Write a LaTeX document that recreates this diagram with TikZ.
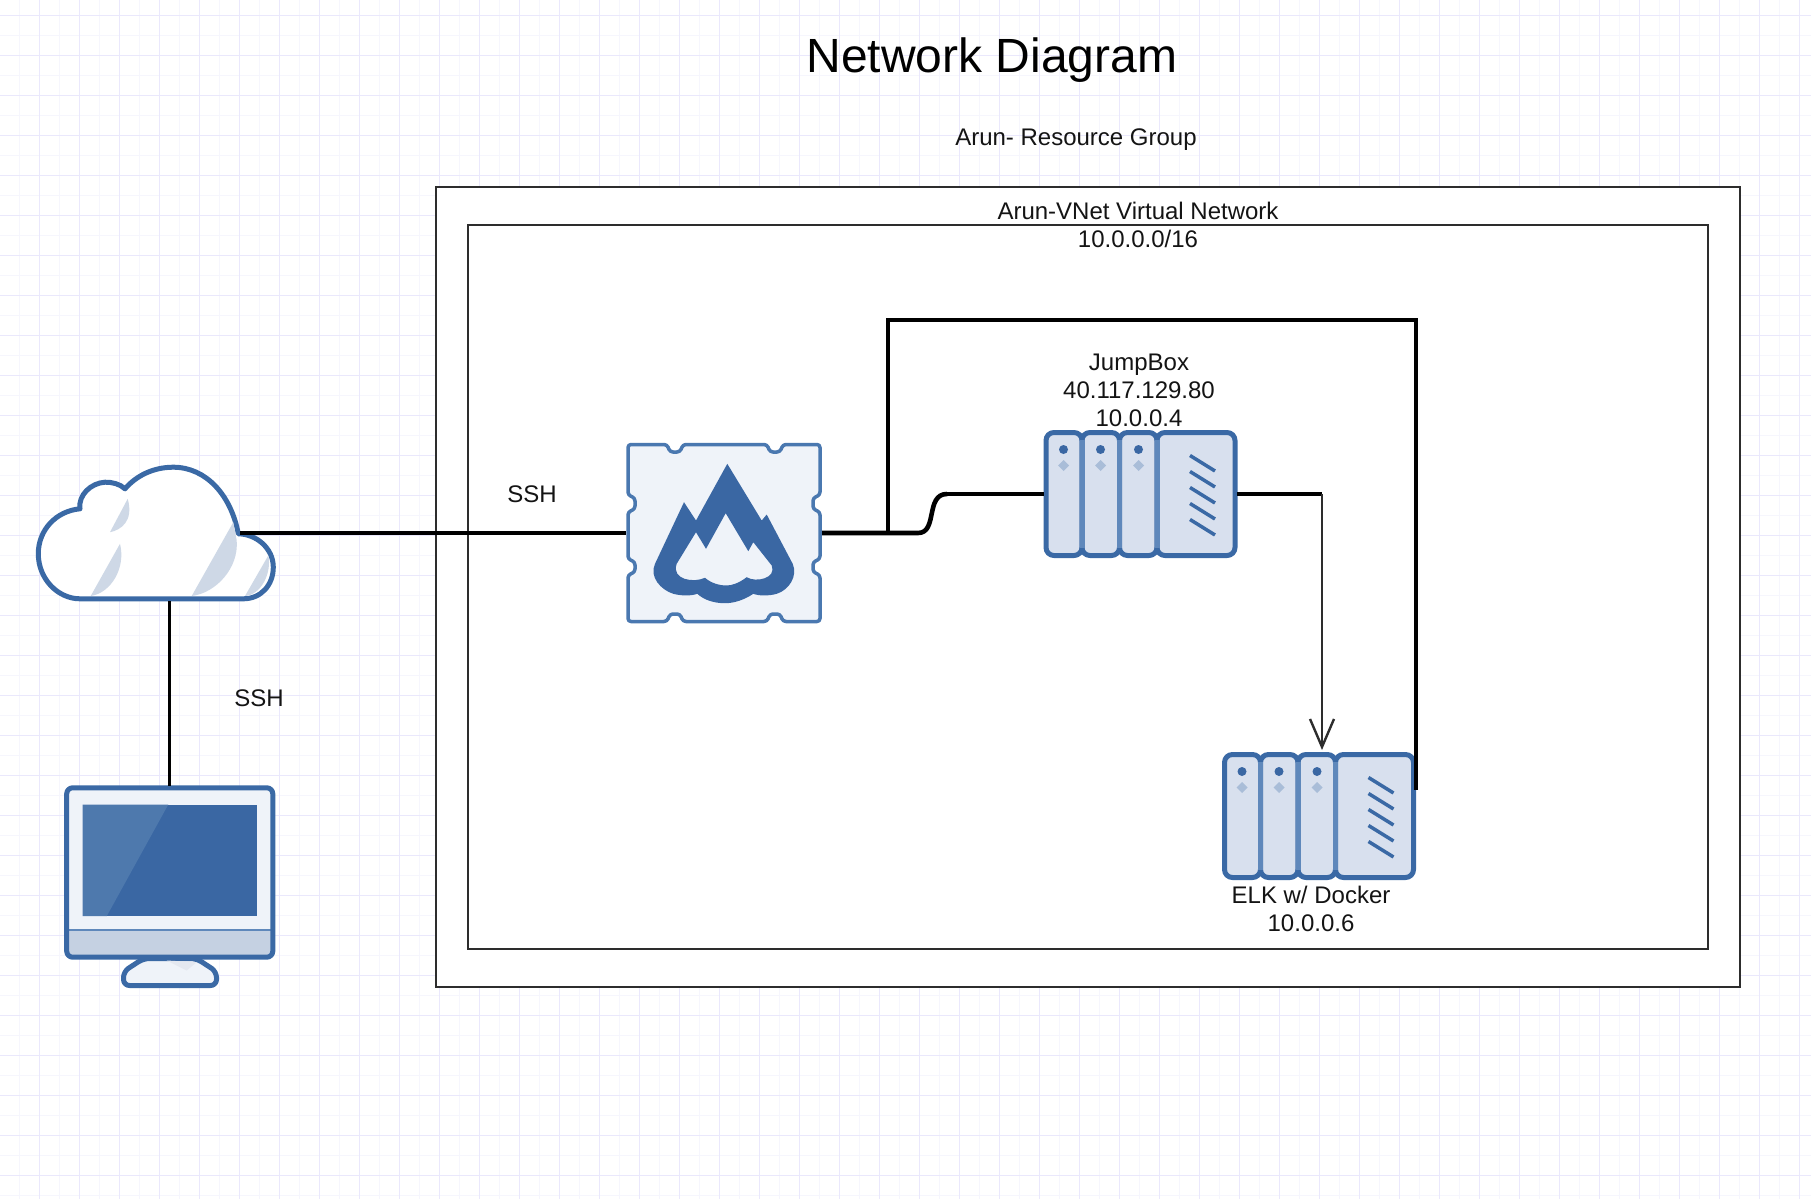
\documentclass[tikz,border=0pt]{standalone}
\usepackage{fontspec}
\setmainfont{Liberation Sans}
\usetikzlibrary{arrows.meta}
\tikzset{
  gridmajor/.style={draw={rgb,255:red,234;green,232;blue,252},line width=0.55pt,step=20pt},
  gridminor/.style={draw={rgb,255:red,246;green,246;blue,253},line width=0.55pt,step=20pt},
  groupbox/.style={fill=white,draw={rgb,255:red,45;green,45;blue,45},line width=1pt},
  iconbox/.style={inner sep=0pt,outer sep=0pt},
  labeltext/.style={font=\fontsize{12}{14}\selectfont,align=center,inner sep=0pt,text={rgb,255:red,20;green,20;blue,20}},
  titletext/.style={font=\fontsize{24}{28}\selectfont,inner sep=0pt},
  iconline/.style={draw={rgb,255:red,58;green,105;blue,165},line width=2.5pt,line join=round},
  iconthin/.style={draw={rgb,255:red,74;green,120;blue,176},line width=1.75pt,line join=round},
  iconsoft/.style={draw={rgb,255:red,95;green,136;blue,187},line width=2.5pt},
  iconslash/.style={draw={rgb,255:red,58;green,105;blue,165},line width=1.75pt},
  icondark/.style={fill={rgb,255:red,58;green,103;blue,163}},
  iconpale/.style={fill={rgb,255:red,239;green,243;blue,249}},
  iconblade/.style={fill={rgb,255:red,216;green,224;blue,238}},
  iconshade/.style={fill={rgb,255:red,206;green,216;blue,230}},
  icondot/.style={fill={rgb,255:red,169;green,189;blue,216}},
  linkline/.style={draw=black,line width=1.7pt,line cap=butt,line join=miter},
  linkheavy/.style={draw=black,line width=2.3pt,line cap=butt,line join=miter},
  linkthin/.style={draw={rgb,255:red,45;green,45;blue,45},line width=1.2pt,line join=miter},
  cloudicon/.pic={
    \path[fill=white,iconline] (-76,65.8) -- (87.3,65.8) .. controls (105,65.8) and (117.3,52) .. (117.3,34.2) .. controls (117.3,15) and (100,1) .. (82.3,0.8) .. controls (75,-38) and (50,-65.8) .. (17.3,-65.8) .. controls (-3,-65.8) and (-20,-57) .. (-31,-44.2) .. controls (-36,-49) and (-44,-51) .. (-51,-50.8) .. controls (-65,-50) and (-78,-38) .. (-76,-24.2) .. controls (-100,-22) and (-117.7,-3) .. (-117.7,20.8) .. controls (-117.7,46) and (-98,65.8) .. (-76,65.8) -- cycle;
    \path[iconshade] (77.3,-10.8) -- (35.7,63) .. controls (60,60) and (83,35) .. (80.7,7.5) -- cycle;
    \path[iconshade] (112.3,22.5) -- (89,63) .. controls (105,62) and (116,40) .. cycle;
    \path[iconshade] (-36,10.8) -- (-65.3,63) .. controls (-45,60) and (-30,35) .. cycle;
    \path[iconshade] (-28.3,-34.2) -- (-46,-0.8) .. controls (-35,-3) and (-22,-12) .. cycle;
  },
  monitoricon/.pic={
    \path[iconpale,iconline,rounded corners=3pt] (-26,72) -- (-46,85) -- (-46,99) -- (47,99) -- (47,85) -- (27,72) -- cycle;
    \path[fill={rgb,255:red,228;green,232;blue,240}] (-2.8,74) -- (17.2,84) -- (27.2,75.7) -- cycle;
    \path[iconpale,rounded corners=3pt] (-102.8,-98.7) rectangle (103.3,70.7);
    \path[fill={rgb,255:red,197;green,209;blue,226}] (-101,43.3) rectangle (101,69);
    \path[draw={rgb,255:red,95;green,136;blue,187},line width=0.75pt] (-101,43.3) -- (101,43.3);
    \path[iconline,rounded corners=3pt] (-102.8,-98.7) rectangle (103.3,70.7);
    \path[icondark] (-86.8,-82) rectangle (87.8,29.7);
    \path[fill={rgb,255:red,78;green,121;blue,173}] (-86.8,-82) -- (-1.2,-82) -- (-62.8,29.7) -- (-86.8,29.7) -- cycle;
  },
  firewallicon/.pic={
    \path[iconpale,iconthin,rounded corners=1.5pt] (-96,-88.5) -- (-57,-88.5) -- (-54,-81) -- (-44,-81) -- (-41,-88.5) -- (43,-88.5) -- (46,-81) -- (56,-81) -- (59,-88.5) -- (96,-88.5) -- (96,-38) -- (89,-35) -- (89,-24) -- (96,-21) -- (96,26) -- (89,29) -- (89,39) -- (96,42) -- (96,88.5) -- (59,88.5) -- (56,81) -- (46,81) -- (43,88.5) -- (-41,88.5) -- (-44,81) -- (-54,81) -- (-57,88.5) -- (-96,88.5) -- (-96,42) -- (-89,39) -- (-89,29) -- (-96,26) -- (-96,-21) -- (-89,-24) -- (-89,-35) -- (-96,-38) -- cycle;
    \path[icondark,even odd rule] (3.3,-69.2) -- (37.7,-12.5) -- (42.7,-18.5) -- (68.7,30.8) .. controls (74,43) and (65,57) .. (52.7,60.8) .. controls (45,63) and (35,63) .. (29.3,60.8) .. controls (20,67) and (10,70.2) .. (1,70.2) .. controls (-10,70.2) and (-20,67) .. (-26.7,60.8) .. controls (-33,63) and (-42,63) .. (-50.7,60.8) .. controls (-63,57) and (-75,44) .. (-69,30.8) -- (-40,-30.8) -- (-28,-12.5) -- cycle
      (1.7,-19.8) -- (24.3,18.2) -- (29.3,9.2) -- (47.7,32.5) .. controls (53,45) and (32,50) .. (22.7,44.2) .. controls (15,50) and (8,52.5) .. (2.7,52.5) .. controls (-5,52.5) and (-13,50) .. (-19,44.8) .. controls (-30,50) and (-53,47) .. (-47.3,30.8) -- (-28,-0.8) -- (-18,15.8) -- cycle;
  },
  servericon/.pic={
    \path[iconblade,iconline,rounded corners=4pt] (-94.5,-61.5) rectangle (-58.5,61.5);
    \path[iconblade,iconline,rounded corners=4pt] (-58.5,-61.5) rectangle (-21,61.5);
    \path[iconblade,iconline,rounded corners=4pt] (-21,-61.5) rectangle (16.5,61.5);
    \path[iconblade,iconline,rounded corners=4pt] (16.5,-61.5) rectangle (94.5,61.5);
    \path[iconsoft] (-58.5,-54) -- (-58.5,54);
    \path[iconsoft] (-21,-54) -- (-21,54);
    \path[iconsoft] (16.5,-54) -- (16.5,54);
    \path[icondark] (-77,-44.5) circle[radius=4.5];
    \path[icondark] (-40,-44.5) circle[radius=4.5];
    \path[icondark] (-2,-44.5) circle[radius=4.5];
    \path[icondot] (-77,-34) -- (-71.5,-28.5) -- (-77,-23) -- (-82.5,-28.5) -- cycle;
    \path[icondot] (-40,-34) -- (-34.5,-28.5) -- (-40,-23) -- (-45.5,-28.5) -- cycle;
    \path[icondot] (-2,-34) -- (3.5,-28.5) -- (-2,-23) -- (-7.5,-28.5) -- cycle;
    \path[iconslash] (49.5,-38.5) -- (74.5,-23);
    \path[iconslash] (49.5,-22.5) -- (74.5,-7);
    \path[iconslash] (49.5,-6.5) -- (74.5,9);
    \path[iconslash] (49.5,9.5) -- (74.5,25);
    \path[iconslash] (49.5,25.5) -- (74.5,41);
  },
}
\begin{document}
\begin{tikzpicture}[x=0.5pt,y=-0.5pt]
% 1811 x 1199 px, one px is half a point
\useasboundingbox (0,0) rectangle (1811,1199);
\path[fill=white] (0,0) rectangle (1811,1199);
\path[gridminor,shift={(19.5,35.5)}] (-40,-80) grid (1800,1170);
\path[gridmajor,shift={(39.5,15.5)}] (-40,-40) grid (1780,1190);
\path[groupbox] (436,187) rectangle (1740,987);
\path[groupbox] (468,225) rectangle (1708,949);
% texts
\node[titletext] (title) at (992,60) {Network Diagram};
\node[labeltext] (grouplabel) at (1076,139.5) {Arun- Resource Group};
\node[labeltext] (vnetlabel) at (1138,225) {Arun-VNet Virtual Network\\10.0.0.0/16};
\node[labeltext] (jumplabel) at (1139,390) {JumpBox\\40.117.129.80\\10.0.0.4};
\node[labeltext] (elklabel) at (1311,909) {ELK w/ Docker\\10.0.0.6};
\node[labeltext] (sshwan) at (532,494) {SSH};
\node[labeltext] (sshpc) at (259,698) {SSH};
% icons
\node[iconbox,minimum width=119pt,minimum height=67.5pt] (cloud) at (156,533) {};
\node[iconbox,minimum width=105.5pt,minimum height=101pt] (pc) at (169.5,886.5) {};
\node[iconbox,minimum width=98pt,minimum height=90.5pt] (firewall) at (724,533) {};
\node[iconbox,minimum width=96.5pt,minimum height=63.5pt] (jumpbox) at (1140.5,494) {};
\node[iconbox,minimum width=96pt,minimum height=64pt] (elk) at (1319,816) {};
\pic at (cloud) {cloudicon};
\pic at (pc) {monitoricon};
\pic at (firewall) {firewallicon};
\pic at (jumpbox) {servericon};
\pic at (elk) {servericon};
% links
\coordinate (cloudtap) at (240,533);
\coordinate (bendstart) at (918,533);
\coordinate (bendend) at (947,494);
\coordinate (looptap) at (888,533);
\coordinate (elktap) at (1416,790);
\coordinate (jumpcorner) at (1322,494);
\coordinate (elkport) at (1322,750);
\path[linkline] (pc.north) -- (pc.north |- cloud.south);
\path[linkline] (cloudtap) -- (firewall.west);
\path[linkheavy] (firewall.east) -- (bendstart) .. controls (938,533) and (925,494) .. (bendend);
\path[linkline] (bendend) -- (jumpbox.west);
\path[linkline] (looptap) -- (888,320) -| (elktap);
\path[linkline] (jumpbox.east) -- (jumpcorner);
\path[linkthin,-{Straight Barb[length=14pt,width=12pt]}] (jumpcorner) -- (elkport);
\end{tikzpicture}
\end{document}
